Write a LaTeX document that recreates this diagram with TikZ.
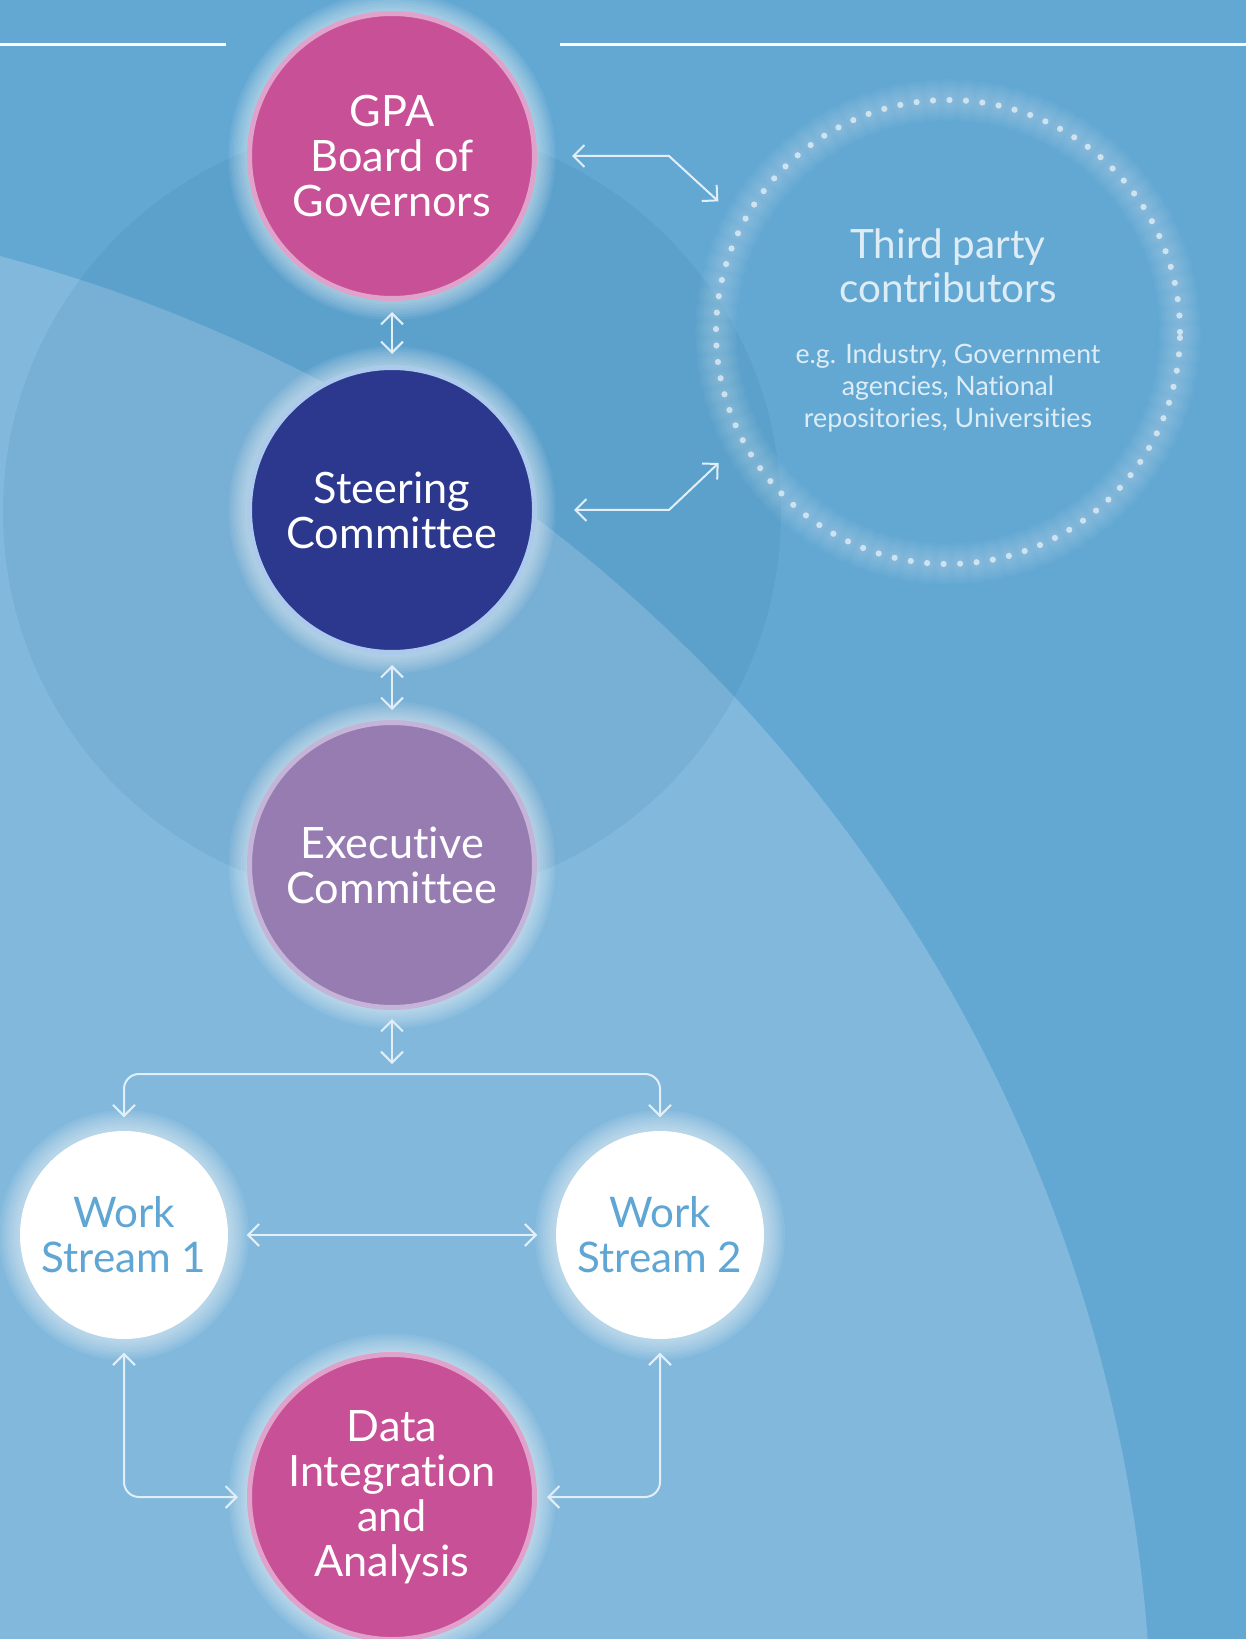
\documentclass[tikz,border=0pt]{standalone}
\usepackage{fontspec}
\setmainfont{Lato}[Ligatures={NoCommon}]
\usetikzlibrary{positioning}
\usetikzlibrary{arrows.meta}

\definecolor{bgbase}{RGB}{98,168,211}
\definecolor{bglight}{RGB}{130,184,220}
\definecolor{ovl}{RGB}{40,100,150}
\definecolor{gpamag}{RGB}{199,80,150}
\definecolor{gpaedge}{RGB}{224,162,202}
\definecolor{steernavy}{RGB}{44,55,142}
\definecolor{steeredge}{RGB}{172,202,235}
\definecolor{execlilac}{RGB}{151,124,178}
\definecolor{execedge}{RGB}{196,180,216}
\definecolor{wstext}{RGB}{95,166,212}
\definecolor{linkcol}{RGB}{226,239,248}
\definecolor{thirdtext}{RGB}{222,236,246}

\tikzset{
  glow/.style={preaction={draw=white,opacity=#1,line width=4.2mm},
               preaction={draw=white,opacity=#1,line width=3.7mm},
               preaction={draw=white,opacity=#1,line width=3.2mm},
               preaction={draw=white,opacity=#1,line width=2.7mm},
               preaction={draw=white,opacity=#1,line width=2.2mm},
               preaction={draw=white,opacity=#1,line width=1.7mm},
               preaction={draw=white,opacity=#1,line width=1.2mm},
               preaction={draw=white,opacity=#1,line width=0.7mm}},
  glow/.default=0.07,
  bignode/.style={circle, minimum size=28.5mm, inner sep=0pt, line width=0.5mm,
                  align=center, text=white, font=\fontsize{12.3}{12.8}\selectfont, glow},
  wsnode/.style={circle, fill=white, minimum size=20.8mm, inner sep=0pt,
                 align=center, text=wstext, font=\fontsize{12}{12.8}\selectfont, glow},
  thirdnode/.style={circle, minimum size=46.4mm, inner sep=0pt, draw=white, draw opacity=0.6,
                    line width=0.62mm, line cap=round, dash pattern=on 0pt off 1.65mm, glow=0.035},
  link/.style={draw=linkcol, line width=0.2mm, >={Straight Barb[length=1.1mm,width=2.2mm]}, <->}
}

\begin{document}
\begin{tikzpicture}[x=0.1mm, y=-0.1mm]

\useasboundingbox (0,0) rectangle (1246,1639);
\clip (0,0) rectangle (1246,1639);

% background
{
\fill[bgbase] (0,0) rectangle (1246,1639);
\fill[bglight] (-400,1756) circle (155.2mm);
\fill[ovl, opacity=0.1] (392,512) circle (38.9mm);

\draw[white, line width=0.3mm] (0,45) -- (226,45);
\draw[white, line width=0.3mm] (560,45) -- (1246,45);
}

% nodes
{
\node[bignode, fill=gpamag, draw=gpaedge] (gpa) at (392,156) {GPA\\Board of\\Governors};
\node[bignode, fill=steernavy, draw=steeredge] (steer) at (392,510) {Steering\\Committee};
\node[bignode, fill=execlilac, draw=execedge] (exec) at (392,865) {Executive\\Committee};

\node[wsnode] (ws1) at (124,1235) {Work\\Stream 1};
\node[wsnode] (ws2) at (660,1235) {Work\\Stream 2};

\node[bignode, fill=gpamag, draw=gpaedge] (data) at (392,1497) {Data\\Integration\\and\\Analysis};

\node[thirdnode] (third) at (948,332) {};
\node[align=center, text=thirdtext, font=\fontsize{11.5}{12.6}\selectfont] (thirdtitle) at (948,266) {Third party\\contributors};
\node[align=center, text=thirdtext, font=\fontsize{7.6}{9.1}\selectfont] (thirdsub) at (948,388) {e.g. Industry, Government\\agencies, National\\repositories, Universities};
}

\coordinate (gbend) at (669,156);
\coordinate (sbend) at (669,510);
\coordinate (split) at (392,1074);

% connectors
{
\draw[link, shorten <=3.5mm, shorten >=3mm] (gpa) -- (gbend) -- (third.152);
\draw[link, shorten <=3.7mm, shorten >=3mm] (steer) -- (sbend) -- (third.208);

\draw[link, shorten <=1.1mm, shorten >=1.1mm] (gpa) -- (steer);
\draw[link, shorten <=1mm, shorten >=1mm] (steer) -- (exec);
\draw[link, shorten <=0.9mm, shorten >=1mm] (exec) -- (split);

\draw[link, rounded corners=1.5mm, shorten <=1.3mm, shorten >=1.3mm] (ws1) |- (split) -| (ws2);
\draw[link, shorten <=1.8mm, shorten >=1.8mm] (ws1) -- (ws2);

\draw[link, rounded corners=1.5mm, shorten <=1.3mm, shorten >=0.9mm] (ws1) |- (data);
\draw[link, rounded corners=1.5mm, shorten <=1.3mm, shorten >=1mm] (ws2) |- (data);
}

\end{tikzpicture}
\end{document}
